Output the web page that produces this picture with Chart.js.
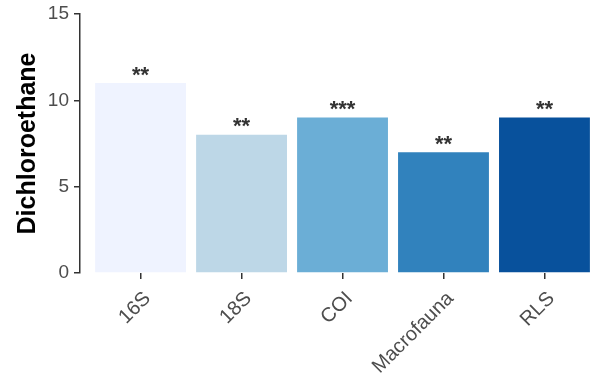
<!DOCTYPE html>
<html>
<head>
<meta charset="utf-8">
<script src="https://cdn.jsdelivr.net/npm/chart.js@4/dist/chart.umd.min.js"></script>
<style>
html,body{margin:0;padding:0;background:#fff;overflow:hidden;}
#wrap{width:600px;height:377px;}
</style>
</head>
<body>
<div id="wrap"><canvas id="c" width="600" height="377"></canvas></div>
<script>
const categories = ["16S", "18S", "COI", "Macrofauna", "RLS"];
const values = [11, 8, 9, 7, 9];
const stars = ["**", "**", "***", "**", "**"];
const barColors = ["#EFF3FF", "#BDD7E7", "#6BAED6", "#3182BD", "#08519C"];
const yTicks = [0, 5, 10, 15];

const FONT = "'Liberation Sans', Arial, sans-serif";

const starPlugin = {
  id: 'stars',
  afterDatasetsDraw(chart) {
    const ctx = chart.ctx;
    const meta = chart.getDatasetMeta(0);
    ctx.save();
    ctx.fillStyle = '#333333';
    ctx.font = 'bold 22px ' + FONT;
    ctx.textAlign = 'center';
    ctx.textBaseline = 'alphabetic';
    meta.data.forEach((el, i) => {
      ctx.fillText(stars[i], el.x, el.y - 1.5);
    });
    ctx.restore();
  }
};

new Chart(document.getElementById('c'), {
  type: 'bar',
  data: {
    datasets: [{
      data: values.map((v, i) => ({x: i, y: v})),
      backgroundColor: barColors,
      borderWidth: 0,
      barPercentage: 0.9,
      categoryPercentage: 1.0
    }]
  },
  options: {
    responsive: false,
    animation: false,
    devicePixelRatio: 1,
    layout: {padding: {top: 14, right: 0, left: 0, bottom: 0}},
    plugins: {legend: {display: false}, tooltip: {enabled: false}},
    scales: {
      x: {
        type: 'linear',
        min: -0.6,
        max: 4.55,
        offset: false,
        afterBuildTicks: (s) => { s.ticks = categories.map((c, i) => ({value: i})); },
        afterFit: (s) => { s.height = 104; s.paddingRight = 0; s.paddingLeft = 0; },
        border: {display: false},
        grid: {display: true, offset: false, drawOnChartArea: false, drawTicks: true, tickLength: 6, color: '#333333', lineWidth: 1.5},
        ticks: {
          autoSkip: false,
          minRotation: 45,
          maxRotation: 45,
          padding: 8,
          labelOffset: 7,
          color: '#4D4D4D',
          font: {family: FONT, size: 20},
          callback: (v) => categories[v]
        }
      },
      y: {
        min: 0,
        max: 15,
        afterBuildTicks: (s) => { s.ticks = yTicks.map(v => ({value: v})); },
        afterFit: (s) => { s.width = 80; s.paddingTop = 0; s.paddingBottom = 0; },
        border: {display: true, color: '#333333', width: 1.5},
        grid: {display: true, drawOnChartArea: false, drawTicks: true, tickLength: 6, color: '#333333', lineWidth: 1.5},
        ticks: {
          padding: 5,
          color: '#4D4D4D',
          font: {family: FONT, size: 19}
        },
        title: {
          display: true,
          text: 'Dichloroethane',
          color: '#000000',
          font: {family: FONT, size: 25, weight: 'bold'},
          padding: {top: 13, bottom: 0}
        }
      }
    }
  },
  plugins: [starPlugin]
});
</script>
</body>
</html>
